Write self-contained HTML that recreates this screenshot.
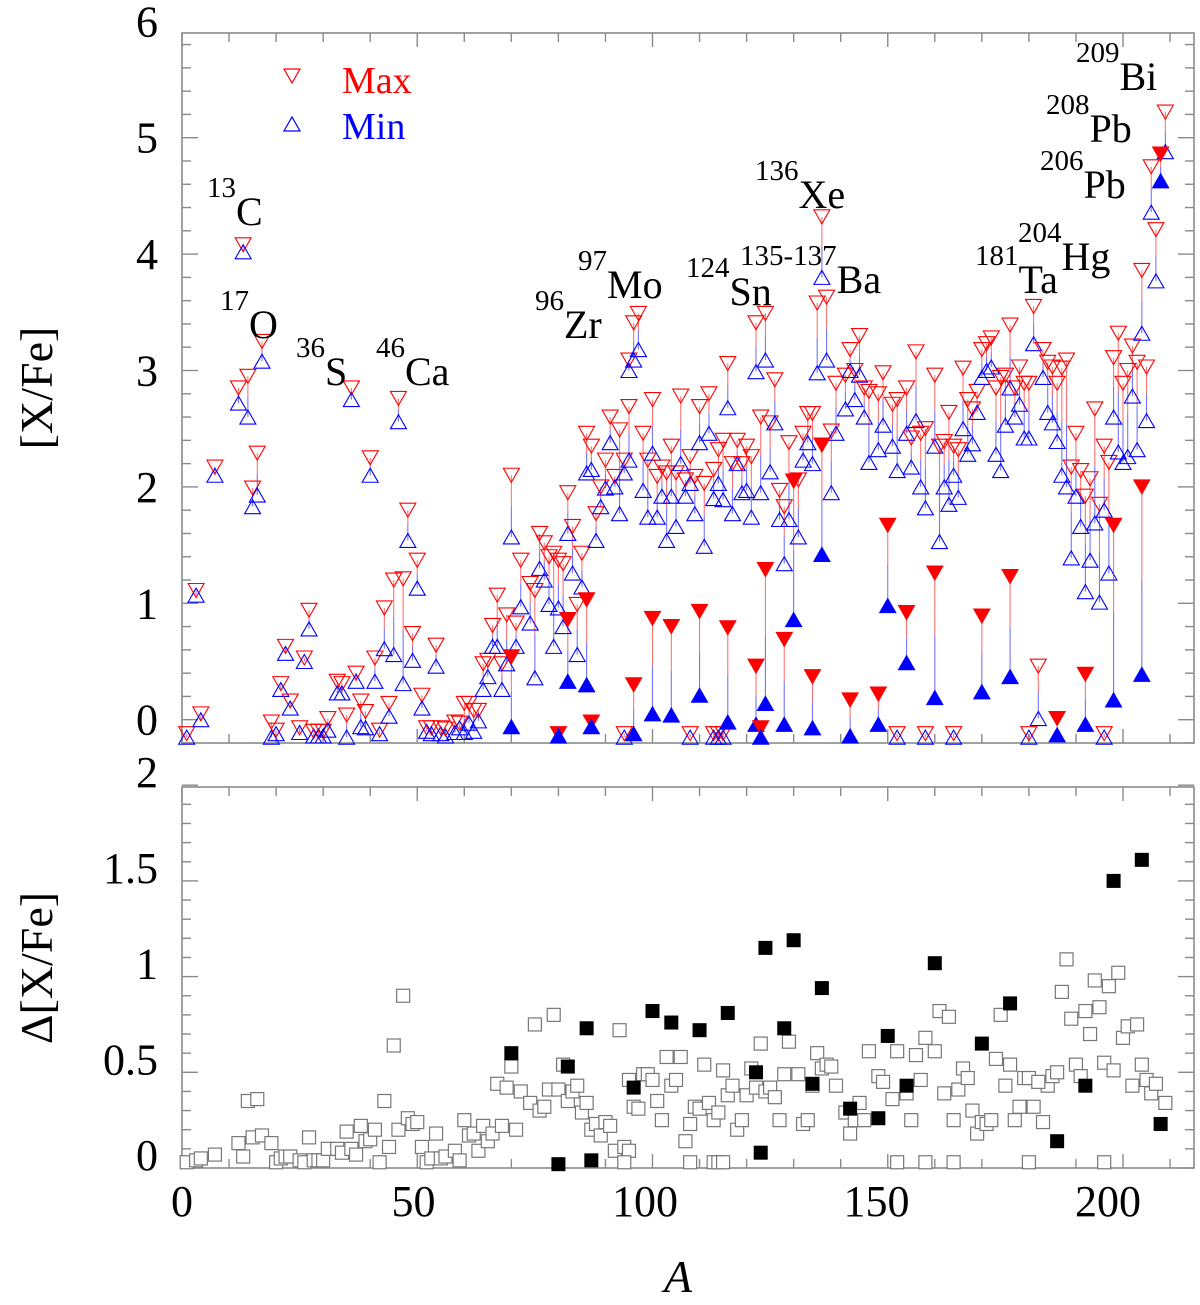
<!DOCTYPE html>
<html><head><meta charset="utf-8">
<style>
html,body{margin:0;padding:0;background:#fff;}
svg{display:block;}
svg text, svg tspan{font-family:"Liberation Serif","Times New Roman","DejaVu Serif",serif !important;}
</style></head>
<body>
<svg id="chart" width="1200" height="1305" viewBox="0 0 1200 1305" xmlns="http://www.w3.org/2000/svg">
<g id="top-panel"></g>
<g id="bottom-panel"></g>
<g font-size="40" fill="#000">
<text x="207" y="225"><tspan font-size="29" dy="-28">13</tspan><tspan dy="28">C</tspan></text>
<text x="220" y="338"><tspan font-size="29" dy="-28">17</tspan><tspan dy="28">O</tspan></text>
<text x="296" y="385"><tspan font-size="29" dy="-28">36</tspan><tspan dy="28">S</tspan></text>
<text x="376" y="385"><tspan font-size="29" dy="-28">46</tspan><tspan dy="28">Ca</tspan></text>
<text x="535" y="338"><tspan font-size="29" dy="-28">96</tspan><tspan dy="28">Zr</tspan></text>
<text x="578" y="298"><tspan font-size="29" dy="-28">97</tspan><tspan dy="28">Mo</tspan></text>
<text x="686" y="305"><tspan font-size="29" dy="-28">124</tspan><tspan dy="28">Sn</tspan></text>
<text x="740" y="293"><tspan font-size="29" dy="-28">135-137</tspan><tspan dy="28">Ba</tspan></text>
<text x="755" y="208"><tspan font-size="29" dy="-28">136</tspan><tspan dy="28">Xe</tspan></text>
<text x="975" y="293"><tspan font-size="29" dy="-28">181</tspan><tspan dy="28">Ta</tspan></text>
<text x="1018" y="270"><tspan font-size="29" dy="-28">204</tspan><tspan dy="28">Hg</tspan></text>
<text x="1040" y="198"><tspan font-size="29" dy="-28">206</tspan><tspan dy="28">Pb</tspan></text>
<text x="1046" y="142"><tspan font-size="29" dy="-28">208</tspan><tspan dy="28">Pb</tspan></text>
<text x="1076" y="90"><tspan font-size="29" dy="-28">209</tspan><tspan dy="28">Bi</tspan></text>
</g>
<g>
<polygon points="284,69 300,69 292,83" fill="none" stroke="#f00" stroke-width="1.2"/>
<text x="342" y="93" font-size="38" fill="#f00">Max</text>
<polygon points="284,131 300,131 292,117" fill="none" stroke="#00f" stroke-width="1.2"/>
<text x="342" y="139" font-size="38" fill="#00f">Min</text>
</g>
<text x="52" y="388" font-size="46" text-anchor="middle" transform="rotate(-90 52 388)">[X/Fe]</text>
<text x="52" y="968" font-size="46" text-anchor="middle" transform="rotate(-90 52 968)">Δ[X/Fe]</text>
<text x="678" y="1292" font-size="46" font-style="italic" text-anchor="middle">A</text>
</svg>
<script>
const openA=[1,3,4,7,12,13,14,15,16,17,19,20,21,22,23,25,26,27,28,29,30,31,33,34,35,36,37,38,39,40,41,42,43,44,45,46,47,48,49,50,51,52,53,54,55,56,58,59,60,61,62,63,64,65,66,67,68,69,70,71,
72,74,75,76,77,78,79,80,81,82,83,84,85,86,87,88,89,90,91,92,93,94,95,96,97,95,98,99,100,101,102,103,104,105,106,107,108,109,110,111,112,113,114,115,116,117,118,119,120,121,122,123,124,125,126,127,128,129,131,132,133,134,135,136,137,138,94,108,113,114,115,
139,141,142,143,144,145,146,148,149,151,152,154,155,156,157,158,160,161,162,163,164,165,166,167,168,169,170,171,172,173,174,175,176,177,178,179,180,181,183,184,185,186,187,188,189,190,191,192,193,194,195,196,197,198,199,200,201,202,203,204,205,206,207,209,182,152,158,164,180,196];
const openMax=[-0.12,1.11,0.05,2.17,2.85,4.08,2.95,1.99,2.29,3.25,-0.02,-0.09,0.31,0.63,0.16,-0.07,0.53,0.94,-0.1,-0.1,-0.1,0.01,0.33,0.31,0.04,2.85,0.4,0.16,0.07,2.25,0.53,-0.09,0.96,0.14,1.2,2.76,1.21,1.8,0.74,1.37,0.21,-0.07,-0.07,0.64,-0.07,-0.08,-0.02,-0.03,0.14,0.14,0.08,0.08,0.48,0.51,0.81,1.07,0.48,0.9,2.1,0.83,
1.37,1.17,1.11,1.6,1.52,1.4,1.43,1.37,1.34,1.95,1.66,0.99,1.43,2.46,2.35,1.77,2.0,2.23,2.6,2.09,2.49,2.23,3.09,3.41,3.49,2.69,2.46,2.23,2.75,2.09,2.17,2.12,2.35,2.12,2.78,2.06,2.26,2.09,2.69,2.03,2.8,2.15,2.32,2.4,3.06,2.2,2.4,2.2,2.35,2.26,3.41,2.6,3.49,2.55,2.92,1.97,1.83,2.38,2.06,2.46,2.63,2.63,3.58,4.32,3.63,2.48,-0.12,-0.12,-0.12,-0.12,-0.12,
2.89,2.96,3.18,3.0,3.3,2.85,2.82,2.8,2.98,2.71,2.75,2.85,2.42,3.16,2.46,2.5,2.96,2.35,2.39,2.64,2.35,2.32,3.02,2.75,2.67,2.82,3.18,3.23,3.28,2.85,2.94,2.96,3.39,2.85,3.03,2.89,2.89,3.55,3.18,3.07,3.03,2.89,3.02,3.09,2.17,2.46,2.14,1.92,2.07,2.67,1.85,2.35,2.21,3.11,3.32,2.89,3.0,3.21,3.07,3.86,3.03,4.75,4.21,5.22,0.46,-0.12,-0.12,-0.12,-0.12,-0.12];
const openMin=[-0.15,1.07,0.0,2.1,2.72,4.02,2.6,1.83,1.93,3.08,-0.15,-0.12,0.26,0.57,0.1,-0.11,0.5,0.78,-0.14,-0.14,-0.14,-0.09,0.23,0.23,-0.15,2.75,0.33,-0.06,-0.07,2.1,0.33,-0.12,0.61,0.03,0.56,2.56,0.31,1.54,0.51,1.13,0.1,-0.1,-0.12,0.46,-0.12,-0.14,-0.11,-0.07,-0.11,-0.03,-0.1,-0.01,0.26,0.37,0.63,0.63,0.26,0.48,1.57,0.63,
0.97,0.83,0.36,1.3,1.2,0.99,0.63,0.96,0.8,1.6,1.26,0.56,1.14,2.12,2.15,1.54,1.83,1.99,2.38,2.0,1.77,2.12,3.0,3.09,3.18,2.23,1.97,1.74,2.29,1.74,1.92,1.54,1.92,1.66,2.2,1.92,2.03,1.77,2.38,1.49,2.46,1.9,2.03,1.89,2.68,1.77,2.2,1.95,1.97,1.74,2.99,1.95,3.09,2.13,2.55,1.72,1.34,1.72,1.57,2.23,2.38,2.2,2.98,3.8,3.09,1.95,-0.15,-0.15,-0.15,-0.15,-0.15,
2.46,2.67,3.0,2.75,2.96,2.6,2.21,2.32,2.53,2.35,2.14,2.46,2.17,2.57,2.0,1.82,2.35,1.53,2.0,1.85,2.1,1.91,2.5,2.28,2.37,2.64,2.94,3.0,3.03,2.28,2.14,2.53,2.85,2.6,2.71,2.42,2.42,3.23,2.94,2.64,2.55,2.39,2.1,2.0,1.39,1.92,1.66,1.1,1.37,1.69,1.01,1.8,1.26,2.6,2.3,2.21,2.26,2.78,2.32,3.32,2.57,4.36,3.77,4.88,0.01,-0.15,-0.15,-0.15,-0.15,-0.15];
const filledA=[70,80,82,86,87,96,100,104,110,116,122,123,124,128,130,134,136,142,148,150,154,160,170,176,186,192,198,204,208];
const filledMax=[0.54,-0.12,0.86,1.03,-0.02,0.3,0.87,0.8,0.93,0.79,0.46,-0.07,1.29,0.69,2.05,0.37,2.36,0.17,0.22,1.67,0.92,1.26,0.89,1.23,0.01,0.39,1.67,2.0,4.86];
const filledMin=[-0.06,-0.14,0.33,0.3,-0.06,-0.12,0.05,0.04,0.21,-0.02,-0.04,-0.15,0.14,-0.04,0.86,-0.07,1.42,-0.14,-0.04,0.98,0.49,0.19,0.24,0.37,-0.13,-0.04,0.17,0.39,4.63];
const xTicks=[0,50,100,150,200];
const yTicksTop=[0,1,2,3,4,5,6];
const yTicksBottom=[0,0.5,1,1.5,2];
const yTickLabelsBottom=["0","0.5","1","1.5","2"];

const NS="http://www.w3.org/2000/svg";
const L=182,R=1194,T1=33,B1=743,T2=787,B2=1168;
function xs(a){return L+4.705*a;}
function ys1(v){return 719.7-116.4*v;}
function ys2(v){return B2-191.4*v;}
function xl(a){return L+4.63*a;}
function mk(tag,attrs,parent){const e=document.createElementNS(NS,tag);for(const k in attrs)e.setAttribute(k,attrs[k]);parent.appendChild(e);return e;}

const topG=document.getElementById('top-panel');
const botG=document.getElementById('bottom-panel');
const axisCol="#8a8a8a";

function frame(g,t,b,minorY,majorY,ymap,vmin,vmax,name){
  const f=mk('rect',{x:L,y:t,width:R-L,height:b-t,fill:'none',stroke:axisCol,'stroke-width':1.6},g);
  
  
  for(let a=0;a<=210;a+=10){
    const x=xs(a),len=(a%50===0)?14:9;
    const t1=mk('line',{x1:x,y1:b,x2:x,y2:b-len,stroke:axisCol,'stroke-width':1.4},g);
    
    
    const t2=mk('line',{x1:x,y1:t,x2:x,y2:t+len,stroke:axisCol,'stroke-width':1.4},g);
    
    
  }
  for(let i=Math.ceil(vmin/minorY-1e-9);i*minorY<=vmax+1e-9;i++){
    const v=i*minorY,y=ymap(v);
    const maj=Math.abs(v/majorY-Math.round(v/majorY))<1e-6;
    const len=maj?16:9;
    const a1=mk('line',{x1:L,y1:y,x2:L+len,y2:y,stroke:axisCol,'stroke-width':1.4},g);
    
    
    const a2=mk('line',{x1:R,y1:y,x2:R-len,y2:y,stroke:axisCol,'stroke-width':1.4},g);
    
    
  }
}
frame(topG,T1,B1,0.2,1,ys1,-0.2,5.9,'top-panel');
frame(botG,T2,B2,0.1,0.5,ys2,0,2,'bottom-panel');

yTicksTop.forEach(v=>{
  const t=mk('text',{x:158,y:ys1(v)+15,'font-size':44,'text-anchor':'end'},topG);
  t.textContent=String(v);
  
  
});
yTicksBottom.forEach((v,i)=>{
  const t=mk('text',{x:158,y:ys2(v)+2,'font-size':44,'text-anchor':'end'},botG);
  t.textContent=yTickLabelsBottom[i];
  
  
});
xTicks.forEach(a=>{
  const t=mk('text',{x:xl(a),y:1216,'font-size':44,'text-anchor':'middle'},botG);
  t.textContent=String(a);
  
  
});

function stem(a,mx,mn,g){
  if(mx===undefined||mn===undefined)return;
  const x=xs(a),y1=ys1(mx),y2=ys1(mn),ym=(y1+y2)/2;
  if(y2-y1<3)return;
  const s1=mk('line',{x1:x,y1:y1,x2:x,y2:ym,stroke:'rgba(255,0,0,0.55)','stroke-width':1.1},g);
  
  
  const s2=mk('line',{x1:x,y1:ym,x2:x,y2:y2,stroke:'rgba(0,0,255,0.55)','stroke-width':1.1},g);
  
  
}
function tri(a,v,down,filled,g){
  const x=xs(a),y=ys1(v),w=8,h=7;
  const pts=down?`${x-w},${y-h} ${x+w},${y-h} ${x},${y+h}`:`${x-w},${y+h} ${x+w},${y+h} ${x},${y-h}`;
  const col=down?'#f00':'#00f';
  return mk('polygon',{points:pts,fill:filled?col:'none',stroke:col,'stroke-width':1.1},g);
}
const stems=mk('g',{},topG);


const marks=mk('g',{},topG);


openA.forEach((a,i)=>stem(a,openMax[i],openMin[i],stems));
filledA.forEach((a,i)=>stem(a,filledMax[i],filledMin[i],stems));
openA.forEach((a,i)=>{
  if(openMax[i]===undefined)return;
  const p=tri(a,openMax[i],true,false,marks);
  
  
  const q=tri(a,openMin[i],false,false,marks);
  
  
});
filledA.forEach((a,i)=>{
  const p=tri(a,filledMax[i],true,true,marks);
  
  
  const q=tri(a,filledMin[i],false,true,marks);
  
  
});

const sq=6.5;
openA.forEach((a,i)=>{
  if(openMax[i]===undefined)return;
  const d=Math.max(0,openMax[i]-openMin[i]);
  const r=mk('rect',{x:xs(a)-sq,y:ys2(d)-sq,width:2*sq,height:2*sq,fill:'#fff',stroke:'#777','stroke-width':1.2},botG);
  
  
});
filledA.forEach((a,i)=>{
  const d=Math.max(0,filledMax[i]-filledMin[i]);
  const r=mk('rect',{x:xs(a)-sq,y:ys2(d)-sq,width:2*sq,height:2*sq,fill:'#000',stroke:'#000','stroke-width':1},botG);
  
  
});
</script>
</body></html>
